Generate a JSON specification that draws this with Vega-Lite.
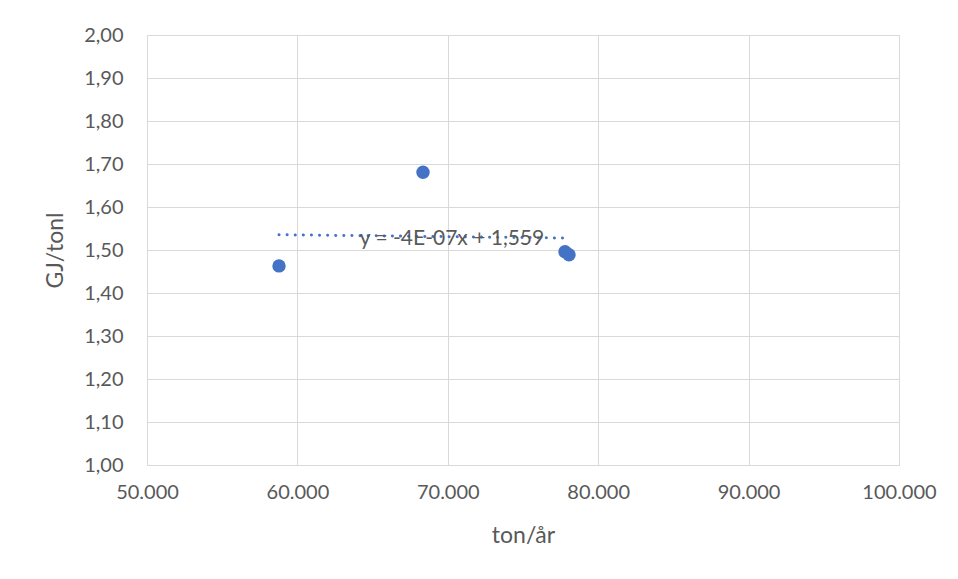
{
  "$schema": "https://vega.github.io/schema/vega-lite/v6.json",
  "autosize": {"type": "none"},
  "width": 752,
  "height": 430,
  "padding": {"left": 147, "top": 35, "right": 59, "bottom": 114},
  "background": "#ffffff",
  "config": {
    "view": {"stroke": null},
    "font": "Lato",
    "axis": {
      "labelFont": "Lato",
      "labelFontSize": 20,
      "labelColor": "#595959",
      "labelFlush": false,
      "labelOverlap": false,
      "titleFont": "Lato",
      "titleFontSize": 23,
      "titleColor": "#595959",
      "titleFontWeight": "normal",
      "gridColor": "#D9D9D9",
      "gridWidth": 1,
      "domainColor": "#D9D9D9",
      "ticks": false
    }
  },
  "datasets": {
    "points": [
      {"ton": 58777, "gj": 1.463},
      {"ton": 68351, "gj": 1.681},
      {"ton": 77793, "gj": 1.496},
      {"ton": 78059, "gj": 1.489}
    ],
    "trend": [
      {"ton": 58777, "gj": 1.5355},
      {"ton": 78059, "gj": 1.5278}
    ],
    "equation": [
      {"ton": 70279, "gj": 1.5256, "label": "y = -4E-07x + 1,559"}
    ]
  },
  "layer": [
    {
      "data": {"name": "points"},
      "mark": {"type": "point", "filled": true, "shape": "circle", "size": 180, "color": "#4472C4", "opacity": 1},
      "encoding": {
        "x": {
          "field": "ton",
          "type": "quantitative",
          "title": "ton/år",
          "scale": {"domain": [50000, 100000], "nice": false, "zero": false},
          "axis": {
            "values": [50000, 60000, 70000, 80000, 90000, 100000],
            "labelExpr": "replace(format(datum.value, ',d'), ',', '.')",
            "labelPadding": 17,
            "titlePadding": 22,
            "domain": true
          }
        },
        "y": {
          "field": "gj",
          "type": "quantitative",
          "title": "GJ/tonl",
          "scale": {"domain": [1.0, 2.0], "nice": false, "zero": false},
          "axis": {
            "values": [1.0, 1.1, 1.2, 1.3, 1.4, 1.5, 1.6, 1.7, 1.8, 1.9, 2.0],
            "labelExpr": "replace(format(datum.value, '.2f'), '.', ',')",
            "labelPadding": 24,
            "titlePadding": 16,
            "domain": true
          }
        }
      }
    },
    {
      "data": {"name": "trend"},
      "mark": {"type": "line", "color": "#4472C4", "strokeWidth": 3, "strokeCap": "round", "strokeDash": [0.1, 8]},
      "encoding": {
        "x": {"field": "ton", "type": "quantitative"},
        "y": {"field": "gj", "type": "quantitative"}
      }
    },
    {
      "data": {"name": "equation"},
      "mark": {"type": "text", "font": "Lato", "fontSize": 21, "color": "#595959", "align": "center", "baseline": "middle"},
      "encoding": {
        "x": {"field": "ton", "type": "quantitative"},
        "y": {"field": "gj", "type": "quantitative"},
        "text": {"field": "label"}
      }
    }
  ]
}
